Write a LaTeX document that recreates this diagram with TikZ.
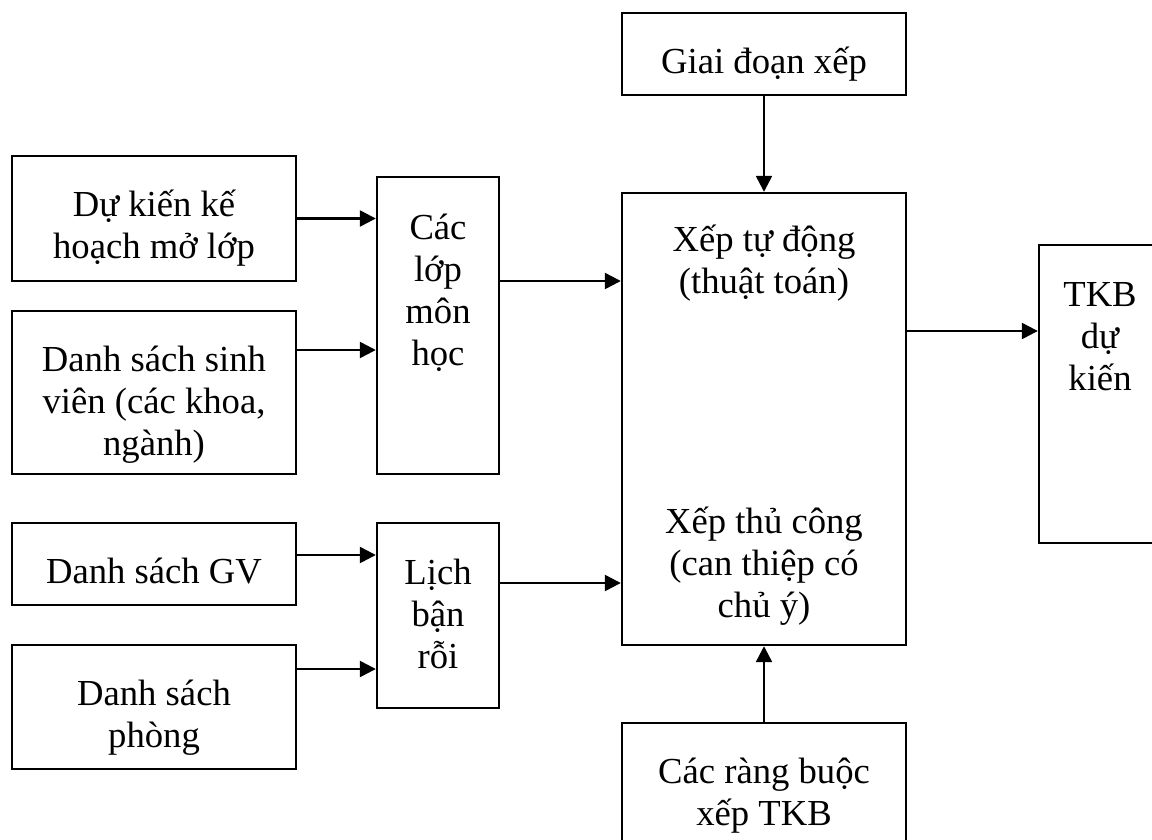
\documentclass[tikz,border=0pt]{standalone}
\usepackage{fontspec}
\setmainfont{Liberation Serif}
\usetikzlibrary{arrows.meta}
\begin{document}
\begin{tikzpicture}[x=0.75pt,y=-0.75pt,
  box/.style={draw, line width=1.8pt, inner sep=0pt},
  wide/.style={box, minimum width=213pt},
  narrow/.style={box, minimum width=91.5pt},
  % base anchor sits on the last line of a multi-line label
  txt/.style={align=center, anchor=base, inner sep=0pt,
              font=\fontsize{27.5}{31.5}\selectfont},
  arr/.style={line width=1.8pt, -{Triangle[length=12pt,width=12pt]}}]
\clip (0,0) rectangle (1152,839);

% input boxes (left column)
\node[wide, minimum height=93.75pt]  (A) at (154,218.5) {};
\node[wide, minimum height=122.25pt] (B) at (154,392.5) {};
\node[wide, minimum height=61.5pt]   (D) at (154,564) {};
\node[wide, minimum height=93pt]     (E) at (154,707) {};
% intermediate boxes
\node[narrow, minimum height=222.75pt] (C) at (438,325.5) {};
\node[narrow, minimum height=138.75pt] (F) at (438,615.5) {};
% scheduling boxes
\node[wide, minimum height=61.5pt] (G) at (764,54) {};
\node[wide, minimum height=339pt]  (H) at (764,419) {};
\node[wide, minimum height=99pt]   (J) at (764,789) {};
% result box
\node[narrow, minimum height=223.5pt] (I) at (1100,394) {};

% labels
\node[txt] (tA) at (154,258) {Dự kiến kế\\hoạch mở lớp};
\node[txt] (tB) at (154,455) {Danh sách sinh\\viên (các khoa,\\ngành)};
\node[txt] (tD) at (154,583) {Danh sách GV};
\node[txt] (tE) at (154,747) {Danh sách\\phòng};
\node[txt] (tC) at (438,365) {Các\\lớp\\môn\\học};
\node[txt] (tF) at (438,668) {Lịch\\bận\\rỗi};
\node[txt] (tG) at (764,73) {Giai đoạn xếp};
\node[txt] (tH1) at (764,293) {Xếp tự động\\(thuật toán)};
\node[txt] (tH2) at (764,617) {Xếp thủ công\\(can thiệp có\\chủ ý)};
\node[txt] (tJ) at (764,825) {Các ràng buộc\\xếp TKB};
\node[txt] (tI) at (1100,390) {TKB\\dự\\kiến};

% rows of the horizontal connectors
\coordinate (rB) at (0,350);
\coordinate (rC) at (0,281);
\coordinate (rD) at (0,555);
\coordinate (rE) at (0,669);
\coordinate (rF) at (0,583);
\coordinate (rH) at (0,331);

% connectors
\draw[arr] (A.east) -- (A.east -| C.west);
\draw[arr] (B.east |- rB) -- (C.west |- rB);
\draw[arr] (D.east |- rD) -- (F.west |- rD);
\draw[arr] (E.east |- rE) -- (F.west |- rE);
\draw[arr] (C.east |- rC) -- (H.west |- rC);
\draw[arr] (F.east |- rF) -- (H.west |- rF);
\draw[arr] (H.east |- rH) -- (I.west |- rH);
\draw[arr] (G.south) -- (H.north);
\draw[arr] (J.north) -- (H.south);
\end{tikzpicture}
\end{document}
